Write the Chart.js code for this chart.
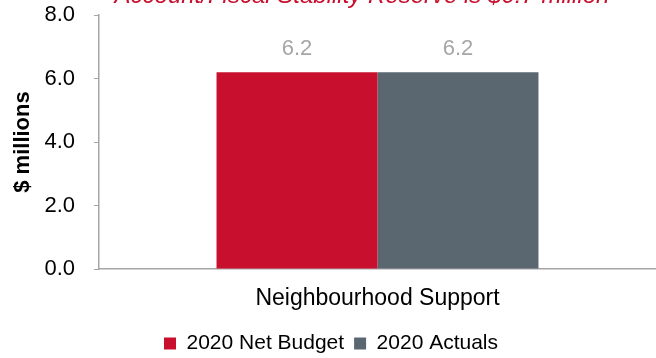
<!DOCTYPE html>
<html>
<head>
<meta charset="utf-8">
<script src="https://cdn.jsdelivr.net/npm/chart.js@4/dist/chart.umd.min.js"></script>
<style>
  html, body { margin: 0; padding: 0; background: #fff; }
  #wrap { width: 656px; height: 358px; }
</style>
</head>
<body>
<div id="wrap"><canvas id="budgetChart" width="656" height="358"></canvas></div>
<script>
const categories = ['Neighbourhood Support'];
const seriesNames = ['2020 Net Budget', '2020 Actuals'];
const netBudget = [6.2];
const actuals = [6.2];
const yTicks = [0, 2, 4, 6, 8];
const headline = 'Account/Fiscal Stability Reserve is $0.7 million';

const FONT = 'Liberation Sans, Arial, sans-serif';

// value labels above bars
const valueLabels = {
    id: 'valueLabels',
    afterDatasetsDraw(chart) {
        const ctx = chart.ctx;
        ctx.save();
        ctx.font = '22px ' + FONT;
        ctx.fillStyle = '#a6a6a6';
        ctx.textAlign = 'center';
        ctx.textBaseline = 'middle';
        chart.data.datasets.forEach((ds, i) => {
            chart.getDatasetMeta(i).data.forEach((bar, j) => {
                ctx.fillText(ds.data[j].toFixed(1), bar.x, bar.y - 23);
            });
        });
        ctx.restore();
    }
};

// clipped headline at the very top
const headlineText = {
    id: 'headlineText',
    afterDraw(chart) {
        const ctx = chart.ctx;
        ctx.save();
        ctx.font = 'italic 24px ' + FONT;
        ctx.fillStyle = '#c8102e';
        ctx.textAlign = 'center';
        ctx.textBaseline = 'alphabetic';
        ctx.fillText(headline, 362, 3);
        ctx.restore();
    }
};

new Chart(document.getElementById('budgetChart').getContext('2d'), {
    type: 'bar',
    data: {
        labels: categories,
        datasets: [
            { label: seriesNames[0], data: netBudget, backgroundColor: '#c8102e' },
            { label: seriesNames[1], data: actuals, backgroundColor: '#5b6770' }
        ]
    },
    options: {
        responsive: false,
        animation: false,
        layout: { padding: { top: 15, right: -6, left: 0, bottom: -6 } },
        datasets: { bar: { categoryPercentage: 0.578, barPercentage: 1.0 } },
        scales: {
            x: {
                grid: { display: false, drawTicks: false },
                border: { display: true, color: '#a6a6a6', width: 1.5 },
                ticks: { color: '#000', font: { family: FONT, size: 23 }, padding: 16 },
                afterFit(scale) { scale.height = 54; }
            },
            y: {
                min: 0,
                max: 8,
                afterBuildTicks(scale) { scale.ticks = yTicks.map(v => ({ value: v })); },
                grid: { drawOnChartArea: false, drawTicks: true, tickLength: 5, color: '#a6a6a6' },
                border: { display: true, color: '#a6a6a6', width: 1.5 },
                ticks: {
                    color: '#000',
                    font: { family: FONT, size: 22 },
                    padding: 19,
                    callback: v => v.toFixed(1)
                },
                title: {
                    display: true,
                    text: '$ millions',
                    color: '#000',
                    font: { family: FONT, size: 22, weight: 'bold' },
                    padding: { top: 10, bottom: 0 }
                },
                afterFit(scale) {
                    scale.width = 99;
                    scale.paddingTop = 0;
                    scale.paddingBottom = 0;
                }
            }
        },
        plugins: {
            legend: {
                position: 'bottom',
                labels: {
                    color: '#000',
                    font: { family: FONT, size: 21 },
                    boxWidth: 12,
                    boxHeight: 12,
                    padding: 10
                }
            },
            tooltip: { enabled: false }
        }
    },
    plugins: [valueLabels, headlineText]
});
</script>
</body>
</html>
